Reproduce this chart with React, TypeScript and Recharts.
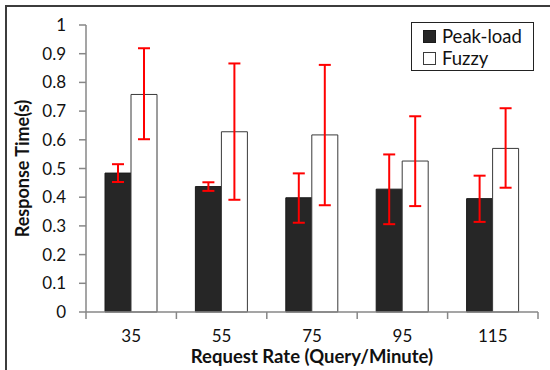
import { BarChart, Bar, XAxis, YAxis, ErrorBar, Legend } from "recharts";

const rates = ["35", "55", "75", "95", "115"];
const peakLoad = [0.484, 0.437, 0.398, 0.428, 0.395];
const peakLow = [0.453, 0.422, 0.311, 0.306, 0.314];
const peakHigh = [0.515, 0.452, 0.483, 0.549, 0.475];
const fuzzy = [0.758, 0.628, 0.617, 0.526, 0.57];
const fuzzyLow = [0.602, 0.391, 0.372, 0.369, 0.433];
const fuzzyHigh = [0.919, 0.866, 0.861, 0.682, 0.71];
const yTicks = [0, 0.1, 0.2, 0.3, 0.4, 0.5, 0.6, 0.7, 0.8, 0.9, 1];

const FONT = "Lato, 'Open Sans', sans-serif";
const AXIS = "#878787";

const series = [
  { key: "peak", name: "Peak-load", fill: "#262626", stroke: "#1a1a1a" },
  { key: "fuzzy", name: "Fuzzy", fill: "#ffffff", stroke: "#3a3a3a" },
];

const data = rates.map((rate, i) => ({
  rate,
  peak: peakLoad[i],
  peakErr: [peakLoad[i] - peakLow[i], peakHigh[i] - peakLoad[i]],
  fuzzy: fuzzy[i],
  fuzzyErr: [fuzzy[i] - fuzzyLow[i], fuzzyHigh[i] - fuzzy[i]],
}));

// category labels centred, tick marks on the band boundaries
const RateTick = (props: any) => {
  const { x, y, payload, index } = props;
  const half = payload?.offset ?? 45;
  return (
    <g>
      <line x1={x - half} x2={x - half} y1={y} y2={y + 7} stroke={AXIS} strokeWidth={1.5} />
      {index === rates.length - 1 && (
        <line x1={x + half} x2={x + half} y1={y} y2={y + 7} stroke={AXIS} strokeWidth={1.5} />
      )}
      <text x={x} y={y + 30} textAnchor="middle" fontSize={17} fontFamily={FONT} fill="#111">
        {payload.value}
      </text>
    </g>
  );
};

const LegendBox = () => (
  <div
    style={{
      border: "1.5px solid #222",
      background: "#fff",
      width: 123,
      height: 49,
      padding: "2px 0 0 11px",
      fontFamily: FONT,
      fontSize: 18.5,
      color: "#111",
      boxSizing: "border-box",
    }}
  >
    {series.map((s) => (
      <div key={s.key} style={{ display: "flex", alignItems: "center", height: 22 }}>
        <span
          style={{
            display: "inline-block",
            width: 11,
            height: 11,
            background: s.fill,
            border: `1px solid ${s.stroke}`,
            marginRight: 6,
          }}
        />
        {s.name}
      </div>
    ))}
  </div>
);

export default function App() {
  return (
    <div style={{ position: "absolute", left: 0, top: 0, width: 550, height: 370, overflow: "hidden", background: "#fff" }}>
      <div
        style={{
          position: "absolute",
          left: 5,
          top: 5,
          width: 600,
          height: 400,
          borderLeft: "2px solid #3c3c3c",
          borderTop: "2px solid #3c3c3c",
        }}
      />
      <div style={{ position: "absolute", left: 0, top: 0 }}>
        <BarChart
          width={550}
          height={370}
          data={data}
          margin={{ top: 25, right: 12, bottom: 28, left: 30 }}
          barCategoryGap={19}
          barGap={0}
        >
          <XAxis
            dataKey="rate"
            height={30}
            axisLine={{ stroke: AXIS, strokeWidth: 1.5 }}
            tickLine={false}
            tickSize={0}
            tickMargin={0}
            tick={<RateTick />}
            interval={0}
            label={{
              content: ({ viewBox }: any) => (
                <text
                  x={viewBox.x + viewBox.width / 2}
                  y={viewBox.y + 51}
                  textAnchor="middle"
                  fontSize={18.5}
                  fontWeight={700}
                  fontFamily={FONT}
                  fill="#111"
                >
                  Request Rate (Query/Minute)
                </text>
              ),
            }}
          />
          <YAxis
            width={56}
            domain={[0, 1]}
            ticks={yTicks}
            interval={0}
            tickFormatter={(v: number) => String(v)}
            axisLine={{ stroke: AXIS, strokeWidth: 1.5 }}
            tickLine={{ stroke: AXIS, strokeWidth: 1.5 }}
            tickSize={7}
            tickMargin={13}
            tick={{ fontSize: 17, fontFamily: FONT, fill: "#111" }}
            label={{
              content: ({ viewBox }: any) => {
                const cx = viewBox.x - 8;
                const cy = viewBox.y + viewBox.height / 2;
                return (
                  <text
                    x={cx}
                    y={cy}
                    transform={`rotate(-90, ${cx}, ${cy})`}
                    textAnchor="middle"
                    dominantBaseline="central"
                    fontSize={18}
                    fontWeight={700}
                    fontFamily={FONT}
                    fill="#111"
                  >
                    Response Time(s)
                  </text>
                );
              },
            }}
          />
          <Legend
            layout="vertical"
            align="center"
            verticalAlign="middle"
            wrapperStyle={{ top: 22, left: 411, width: 123 }}
            content={() => <LegendBox />}
          />
          {series.map((s) => (
            <Bar
              key={s.key}
              dataKey={s.key}
              name={s.name}
              fill={s.fill}
              stroke={s.stroke}
              strokeWidth={1}
              isAnimationActive={false}
            >
              <ErrorBar
                dataKey={`${s.key}Err`}
                direction="y"
                width={6}
                stroke="#ff0000"
                strokeWidth={2}
                isAnimationActive={false}
              />
            </Bar>
          ))}
        </BarChart>
      </div>
    </div>
  );
}
